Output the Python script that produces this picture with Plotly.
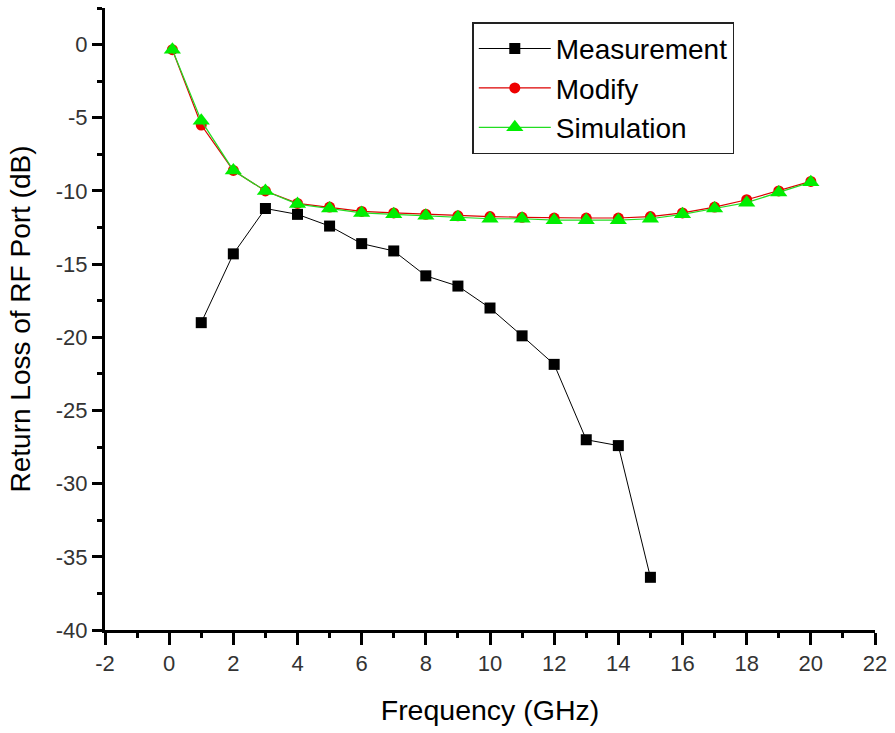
import plotly.graph_objects as go

# Data
freq_meas = [1, 2, 3, 4, 5, 6, 7, 8, 9, 10, 11, 12, 13, 14, 15]
measurement = [-19.0, -14.3, -11.2, -11.6, -12.4, -13.6, -14.1, -15.8, -16.5,
               -18.0, -19.9, -21.85, -27.0, -27.4, -36.4]

freq_sim = [0.1, 1, 2, 3, 4, 5, 6, 7, 8, 9, 10, 11, 12, 13, 14, 15, 16, 17, 18, 19, 20]
modify = [-0.35, -5.5, -8.6, -10.0, -10.85, -11.1, -11.4, -11.5, -11.6, -11.7, -11.75,
          -11.8, -11.85, -11.85, -11.85, -11.75, -11.5, -11.1, -10.6, -10.0, -9.35]
simulation = [-0.35, -5.2, -8.6, -10.0, -10.9, -11.2, -11.5, -11.6, -11.7, -11.8, -11.9,
              -11.9, -12.0, -12.0, -12.0, -11.9, -11.6, -11.2, -10.8, -10.1, -9.4]

x_ticks = [-2, 0, 2, 4, 6, 8, 10, 12, 14, 16, 18, 20, 22]
y_ticks = [0, -5, -10, -15, -20, -25, -30, -35, -40]

font_family = "Liberation Sans, Arial, sans-serif"

fig = go.Figure()
fig.add_trace(go.Scatter(
    x=freq_meas, y=measurement, name="Measurement", mode="lines+markers",
    line=dict(color="black", width=1),
    marker=dict(symbol="square", size=11, color="black"),
))
fig.add_trace(go.Scatter(
    x=freq_sim, y=modify, name="Modify", mode="lines+markers",
    line=dict(color="#dd0000", width=1.2),
    marker=dict(symbol="circle", size=11, color="#ee0000"),
))
fig.add_trace(go.Scatter(
    x=freq_sim, y=simulation, name="Simulation", mode="lines+markers",
    line=dict(color="#22dd22", width=1.2),
    marker=dict(symbol="triangle-up", size=15, color="#00ee00"),
))

fig.update_layout(
    width=895, height=733,
    margin=dict(l=105, r=18, t=8, b=103),
    paper_bgcolor="white", plot_bgcolor="white",
    font=dict(family=font_family, color="black"),
    showlegend=True,
    legend=dict(
        x=0.477, y=0.977, xanchor="left", yanchor="top",
        bordercolor="#222", borderwidth=1.5, bgcolor="white",
        font=dict(size=28, family=font_family, color="black"),
        itemwidth=72, tracegroupgap=0,
    ),
)

fig.update_xaxes(
    range=[-2, 22], tickvals=x_ticks, ticktext=[str(v) for v in x_ticks],
    showline=True, linecolor="black", linewidth=3,
    ticks="outside", ticklen=12, tickwidth=2.5, tickcolor="black",
    minor=dict(dtick=1, ticks="outside", ticklen=5, tickwidth=2.5, tickcolor="black"),
    showgrid=False, zeroline=False, mirror=False,
    tickfont=dict(size=22, color="#333", family=font_family),
    title=dict(text="Frequency (GHz)", font=dict(size=28.5, family=font_family, color="black"), standoff=25),
)
fig.update_yaxes(
    range=[-40, 2.5], tickvals=y_ticks, ticktext=[str(v) for v in y_ticks],
    showline=True, linecolor="black", linewidth=3,
    ticks="outside", ticklen=10, tickwidth=2.5, tickcolor="black",
    minor=dict(dtick=2.5, ticks="outside", ticklen=5, tickwidth=2.5, tickcolor="black"),
    showgrid=False, zeroline=False, mirror=False,
    tickfont=dict(size=22, color="#333", family=font_family),
    title=dict(text="Return Loss of RF Port (dB)", font=dict(size=28, family=font_family, color="black"), standoff=18),
)

fig.write_html("out.html")
